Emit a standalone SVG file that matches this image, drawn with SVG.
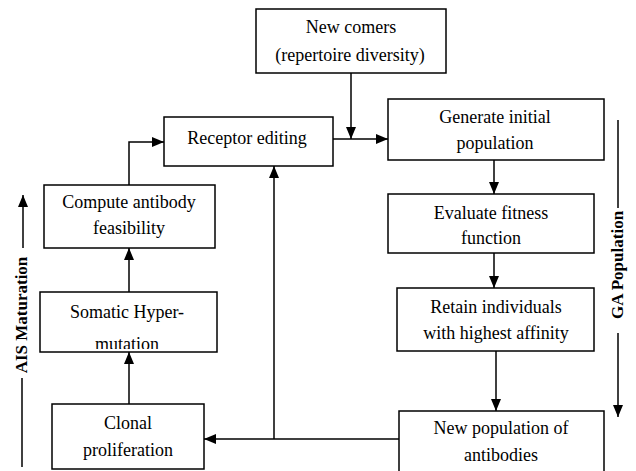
<svg xmlns="http://www.w3.org/2000/svg" width="636" height="471" viewBox="0 0 636 471">
<style>
.box{fill:#fff;stroke:#000;stroke-width:1.5}
.t{font-family:"Liberation Serif","Times New Roman",serif;font-size:18px;fill:#000;text-anchor:middle}
.lbl{font-family:"Liberation Serif","Times New Roman",serif;font-size:17px;font-weight:bold;fill:#000;text-anchor:middle}
.c{fill:none;stroke:#000;stroke-width:1.5}
</style>
<defs>
<marker id="ah" viewBox="0 0 12 10" refX="12" refY="5" markerWidth="12" markerHeight="10" markerUnits="userSpaceOnUse" orient="auto">
<path d="M0,0 L12,5 L0,10 Z" fill="#000"/>
</marker>
<clipPath id="clipSom"><rect x="40" y="292" width="177" height="57"/></clipPath>
</defs>
<rect width="636" height="471" fill="#fff"/>
<g id="connectors">
<path class="c" d="M351,73 V139" marker-end="url(#ah)"/>
<path class="c" d="M333,139 H388" marker-end="url(#ah)"/>
<path class="c" d="M494,160 V194" marker-end="url(#ah)"/>
<path class="c" d="M494,253 V288" marker-end="url(#ah)"/>
<path class="c" d="M496,351 V411" marker-end="url(#ah)"/>
<path class="c" d="M399,439 H204" marker-end="url(#ah)"/>
<path class="c" d="M274,439 V166" marker-end="url(#ah)"/>
<path class="c" d="M129,404 V352" marker-end="url(#ah)"/>
<path class="c" d="M129,292 V248" marker-end="url(#ah)"/>
<path class="c" d="M129,185 V142 H164" marker-end="url(#ah)"/>
</g>
<g id="newcomers">
<rect class="box" x="256" y="9" width="190" height="64"/>
<text class="t" x="351" y="33">New comers</text>
<text class="t" x="350" y="61">(repertoire diversity)</text>
</g>
<g id="receptor">
<rect class="box" x="164" y="117" width="169" height="49"/>
<text class="t" x="247" y="144">Receptor editing</text>
</g>
<g id="generate">
<rect class="box" x="388" y="99" width="216" height="61"/>
<text class="t" x="495" y="123">Generate initial</text>
<text class="t" x="495" y="149">population</text>
</g>
<g id="evaluate">
<rect class="box" x="388" y="194" width="206" height="59"/>
<text class="t" x="491" y="219">Evaluate fitness</text>
<text class="t" x="491" y="244">function</text>
</g>
<g id="retain">
<rect class="box" x="397" y="288" width="197" height="63"/>
<text class="t" x="496" y="313">Retain individuals</text>
<text class="t" x="496" y="339">with highest affinity</text>
</g>
<g id="newpop">
<rect class="box" x="399" y="411" width="205" height="70"/>
<text class="t" x="501" y="434">New population of</text>
<text class="t" x="501" y="461">antibodies</text>
</g>
<g id="compute">
<rect class="box" x="44" y="185" width="171" height="63"/>
<text class="t" x="129" y="208">Compute antibody</text>
<text class="t" x="129" y="234">feasibility</text>
</g>
<g id="somatic">
<rect class="box" x="40" y="292" width="177" height="60"/>
<g clip-path="url(#clipSom)">
<text class="t" x="127" y="318">Somatic Hyper-</text>
<text class="t" x="127" y="350">mutation</text>
</g>
</g>
<g id="clonal">
<rect class="box" x="52" y="404" width="152" height="65"/>
<text class="t" x="128" y="429">Clonal</text>
<text class="t" x="128" y="456">proliferation</text>
</g>
<g id="ais-label">
<path class="c" d="M23,248 V195" marker-end="url(#ah)"/>
<path class="c" d="M22,378 V467"/>
<text class="lbl" transform="translate(22,315) rotate(-90)" dy="5">AIS Maturation</text>
</g>
<g id="ga-label">
<path class="c" d="M618,120 V208"/>
<path class="c" d="M618,333 V417" marker-end="url(#ah)"/>
<text class="lbl" transform="translate(618,265) rotate(-90)" dy="5">GA Population</text>
</g>
</svg>
